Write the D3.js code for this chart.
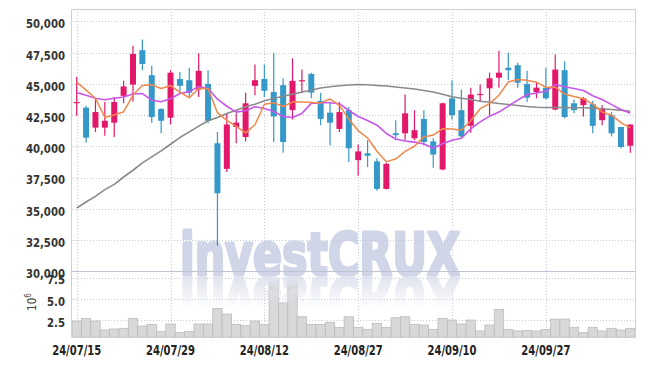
<!DOCTYPE html>
<html>
<head>
<meta charset="utf-8">
<script src="https://cdn.jsdelivr.net/npm/d3@7/dist/d3.min.js"></script>
<style>
  body { margin: 0; background: #fff; }
  svg { display: block; }
</style>
</head>
<body>
<div id="chart"></div>
<script>
// trading days shown on the chart
const dates = [
  "2024-07-15","2024-07-16","2024-07-17","2024-07-18","2024-07-19","2024-07-22","2024-07-23","2024-07-24","2024-07-25","2024-07-26",
  "2024-07-29","2024-07-30","2024-07-31","2024-08-01","2024-08-02","2024-08-05","2024-08-06","2024-08-07","2024-08-08","2024-08-09",
  "2024-08-12","2024-08-13","2024-08-14","2024-08-16","2024-08-19","2024-08-20","2024-08-21","2024-08-22","2024-08-23","2024-08-26",
  "2024-08-27","2024-08-28","2024-08-29","2024-08-30","2024-09-02","2024-09-03","2024-09-04","2024-09-05","2024-09-06","2024-09-09",
  "2024-09-10","2024-09-11","2024-09-12","2024-09-13","2024-09-19","2024-09-20","2024-09-23","2024-09-24","2024-09-25","2024-09-26",
  "2024-09-27","2024-09-30","2024-10-02","2024-10-04","2024-10-07","2024-10-08","2024-10-10","2024-10-11","2024-10-14","2024-10-15"
]
const opens = [
  43500,43100,41500,41500,41900,44050,44950,47700,45700,43000,
  42300,45400,45300,44550,45000,40250,38200,41550,40750,44850,
  45400,44350,44900,42900,45250,45800,43650,42700,41400,42900,
  38900,39450,38800,36600,41050,41050,40650,42200,40400,38150,
  43850,42900,41650,44150,44650,45500,46300,46500,45000,44350,
  44700,42950,46100,43450,43300,43400,42100,42500,41550,40050
]
const highs = [
  45550,43250,43800,43550,43950,45250,48050,48550,46450,43050,
  46100,45950,46300,47450,46100,41150,42650,42650,44300,46550,
  46550,47500,45450,47050,46150,45900,44300,43550,43550,43150,
  40150,40500,39050,38700,42100,44150,42900,42900,40650,43500,
  45300,44550,44700,44950,45900,47650,47500,46700,46050,45100,
  46300,47350,46800,43750,43950,43650,43300,42750,41550,41750
]
const lows = [
  42450,40300,41150,40850,40750,43450,43600,46100,41900,41050,
  41750,44250,43950,43950,41850,32050,37950,40250,40400,44100,
  43950,40350,39500,42150,44250,43850,41700,40100,41150,38750,
  37650,38350,36450,36550,40500,40500,40500,40100,38300,38100,
  42150,40650,41100,43550,42500,44700,45300,44700,43550,43850,
  43750,42900,42250,42650,42400,41050,41700,40800,39850,39500
]
const closes = [
  43550,40700,42750,42050,43550,44800,47400,46600,42350,42050,
  45900,44850,44300,46050,42050,36250,41750,41900,43450,45300,
  44450,42400,40350,45250,45300,44300,42200,41900,42750,39850,
  39600,39250,36600,38600,40900,42650,41300,40350,39350,43450,
  42500,40800,44150,44200,45450,45900,46100,45100,43900,44700,
  43850,46150,42350,42900,43850,41650,43050,41050,39950,41750
]
const volumes = [
  2370000,2680000,2370000,1310000,1430000,1510000,2680000,1780000,1980000,1120000,
  2020000,1000000,1120000,2020000,2020000,3860000,3190000,1980000,1820000,2370000,
  1980000,7180000,4520000,7380000,2880000,1980000,1980000,2210000,1630000,2880000,
  1630000,1390000,2100000,1630000,2760000,2880000,1980000,1900000,1390000,2680000,
  2490000,2020000,2490000,1200000,1900000,3740000,1390000,1200000,1270000,1200000,
  1390000,2600000,2600000,1630000,1000000,1630000,1200000,1510000,1310000,1510000
]
// moving averages as drawn (5, 10, 60 day)
const ma5 = [
  45150,44500,43850,42330,42520,42770,44110,44880,44940,44640,
  44860,44350,43890,44630,44630,42700,42080,41600,41080,41730,
  43370,43500,43190,43550,43550,43520,43480,43790,43290,42200,
  41260,40670,39610,38780,38990,39600,40010,40760,40910,41420,
  41390,41290,42050,43020,43420,44100,45160,45350,45290,45140,
  44730,44740,44190,43990,43820,43380,42760,42500,41910,41490
]
const ma10 = [
  44310,44100,43850,43730,43850,43950,44200,44230,43700,43580,
  43815,44230,44385,44785,44635,43780,43215,42745,42855,43180,
  43035,42790,42395,42315,42640,43445,43490,43490,43420,42875,
  42390,42075,41700,41035,40595,40430,40340,40185,39845,40205,
  40495,40650,41405,41965,42420,42745,43225,43700,44155,44280,
  44415,44950,44770,44640,44480,44055,43750,43345,42950,42655
]
const ma60 = [
  35070,35550,36000,36540,36960,37550,38090,38680,39160,39640,
  40170,40710,41160,41620,42050,42310,42630,42900,43170,43380,
  43650,43840,44020,44180,44350,44500,44670,44770,44850,44910,
  44960,44930,44880,44830,44750,44670,44590,44480,44350,44180,
  43970,43860,43760,43620,43540,43440,43360,43280,43200,43140,
  43120,43120,43120,43090,43090,43060,43010,42950,42900,42820
]
const priceTicks = [30000, 32500, 35000, 37500, 40000, 42500, 45000, 47500, 50000]
const volumeTicks = [2500000, 5000000, 7500000]
const tickDates = ["2024-07-15", "2024-07-29", "2024-08-12", "2024-08-27", "2024-09-10", "2024-09-27"]

const W = 645, H = 366
const plotLeft = 72, plotRight = 635
const plotTop = 9, plotMid = 271.3, plotBottom = 337.3

const upColor = "#e2196a", downColor = "#3498c9"
const gridColor = "#c4c8dc"

const rows = dates.map((d, i) => ({
  date: d, open: opens[i], high: highs[i], low: lows[i], close: closes[i],
  volume: volumes[i], ma5: ma5[i], ma10: ma10[i], ma60: ma60[i]
}))

const x = d3.scaleBand().domain(dates).range([plotLeft, plotRight])
const cx = d => x(d) + x.bandwidth() / 2
const y = d3.scaleLinear().domain([30000, 51000]).range([plotMid, plotTop])
const vy = d3.scaleLinear().domain([450000, 8250000]).range([plotBottom, plotMid])

const svg = d3.select("#chart").append("svg")
    .attr("width", W)
    .attr("height", H)
    .attr("font-family", "'DejaVu Sans Condensed', 'DejaVu Sans', sans-serif")

const defs = svg.append("defs")
const grad = defs.append("linearGradient")
    .attr("id", "fade").attr("x1", 0).attr("y1", 0).attr("x2", 0).attr("y2", 1)
grad.append("stop").attr("offset", "0%").attr("stop-color", "#fff").attr("stop-opacity", 1)
grad.append("stop").attr("offset", "75%").attr("stop-color", "#fff").attr("stop-opacity", 0)
defs.append("mask").attr("id", "reflMask").attr("maskUnits", "userSpaceOnUse")
    .attr("x", 0).attr("y", 0).attr("width", W).attr("height", H)
  .append("rect").attr("x", 0).attr("y", 276).attr("width", W).attr("height", 44).attr("fill", "url(#fade)")

const wmFont = "'DejaVu Sans', sans-serif"
const watermark = (sel, fill) => sel
    .attr("x", 320).attr("y", 274.5)
    .attr("text-anchor", "middle")
    .attr("font-weight", "bold").attr("font-size", 58)
    .attr("font-family", wmFont)
    .attr("textLength", 280).attr("lengthAdjust", "spacingAndGlyphs")
    .attr("fill", fill)
    .attr("stroke", fill).attr("stroke-width", 3.2).attr("stroke-linejoin", "round")
    .text("investCRUX")

// watermark
svg.append("text").call(watermark, "#d0d6e8")

// grid
const grid = svg.append("g")
    .attr("stroke", gridColor)
    .attr("stroke-dasharray", "1,2")
    .attr("stroke-width", 1)
grid.selectAll("line.h")
  .data(priceTicks.filter(t => t > 30000))
  .join("line").attr("class", "h")
    .attr("x1", plotLeft).attr("x2", plotRight)
    .attr("y1", d => Math.round(y(d)) + 0.5).attr("y2", d => Math.round(y(d)) + 0.5)
grid.selectAll("line.vh")
  .data(volumeTicks)
  .join("line").attr("class", "vh")
    .attr("x1", plotLeft).attr("x2", plotRight)
    .attr("y1", d => Math.round(vy(d)) + 0.5).attr("y2", d => Math.round(vy(d)) + 0.5)
grid.selectAll("line.v")
  .data(tickDates)
  .join("line").attr("class", "v")
    .attr("x1", d => Math.round(cx(d)) + 0.5).attr("x2", d => Math.round(cx(d)) + 0.5)
    .attr("y1", plotTop).attr("y2", plotBottom)

// volume bars
svg.append("g")
    .attr("fill", "#d8d8d8")
    .attr("stroke", "#bcbcbc")
    .attr("stroke-width", 0.8)
  .selectAll("rect")
  .data(rows)
  .join("rect")
    .attr("x", d => x(d.date))
    .attr("width", x.bandwidth())
    .attr("y", d => vy(d.volume))
    .attr("height", d => plotBottom - vy(d.volume))

// watermark reflection
svg.append("g").attr("mask", "url(#reflMask)")
  .append("text")
    .attr("transform", "translate(0,552) scale(1,-1)")
    .call(watermark, "#e0e3ee")

// frame
const frame = svg.append("g").attr("stroke", "#cfd1d8").attr("fill", "none")
frame.append("line").attr("x1", plotLeft - 0.5).attr("x2", plotLeft - 0.5).attr("y1", plotTop).attr("y2", plotBottom)
frame.append("line").attr("x1", plotLeft - 0.5).attr("x2", plotRight + 0.5).attr("y1", plotTop + 0.5).attr("y2", plotTop + 0.5)
frame.append("line").attr("x1", plotRight + 0.5).attr("x2", plotRight + 0.5).attr("y1", plotTop).attr("y2", plotBottom)
frame.append("line").attr("x1", plotLeft - 0.5).attr("x2", plotRight + 0.5)
    .attr("y1", Math.round(plotMid) + 0.5).attr("y2", Math.round(plotMid) + 0.5)
    .attr("stroke", "#bfc4d4")

// candles
const candle = svg.append("g")
  .selectAll("g")
  .data(rows)
  .join("g")
    .attr("fill", d => d.close >= d.open ? upColor : downColor)
    .attr("stroke", d => d.close >= d.open ? upColor : downColor)
candle.append("line")
    .attr("x1", d => cx(d.date)).attr("x2", d => cx(d.date))
    .attr("y1", d => y(d.high)).attr("y2", d => y(d.low))
    .attr("stroke-width", 1.2)
candle.append("rect")
    .attr("x", d => cx(d.date) - 3)
    .attr("width", 6)
    .attr("y", d => y(Math.max(d.open, d.close)))
    .attr("height", d => Math.max(1.2, Math.abs(y(d.open) - y(d.close))))
    .attr("stroke", "none")

// moving averages
const lines = [
  { key: "ma60", color: "#8a8a8a", width: 1.6 },
  { key: "ma10", color: "#c956e9", width: 1.6 },
  { key: "ma5", color: "#f0874b", width: 1.5 }
]
lines.forEach(l => {
  svg.append("path")
      .datum(rows)
      .attr("fill", "none")
      .attr("stroke", l.color)
      .attr("stroke-width", l.width)
      .attr("stroke-linejoin", "round")
      .attr("d", d3.line().x(d => cx(d.date)).y(d => y(d[l.key])))
})

// axis labels, squeezed a little to look condensed
const squeeze = (sel, k) => sel.each(function () {
  this.setAttribute("textLength", this.getComputedTextLength() * k)
  this.setAttribute("lengthAdjust", "spacingAndGlyphs")
})
const labels = svg.append("g").attr("fill", "#333").attr("font-size", 12.5)
    .attr("font-weight", "bold").attr("text-anchor", "end")
labels.selectAll("text.p")
  .data(priceTicks)
  .join("text").attr("class", "p")
    .attr("x", 65).attr("y", d => y(d) + 6.8)
    .text(d3.format(","))
    .call(squeeze, 0.9)
labels.selectAll("text.vol")
  .data(volumeTicks)
  .join("text").attr("class", "vol")
    .attr("x", 65).attr("y", d => vy(d) + 6.8)
    .text(d => (d / 1e6).toFixed(1))
    .call(squeeze, 0.9)

const unit = svg.append("text")
    .attr("transform", "translate(36,302) rotate(-90)")
    .attr("text-anchor", "middle")
    .attr("fill", "#444")
    .attr("font-size", 11.5)
unit.append("tspan").text("10")
unit.append("tspan").attr("dy", -5).attr("font-size", 8).text("6")

const fmt = d => d.slice(2).replace(/-/g, "/")
svg.append("g")
    .attr("fill", "#222")
    .attr("font-size", 14.5)
    .attr("font-weight", "bold")
    .attr("text-anchor", "middle")
  .selectAll("text")
  .data(tickDates)
  .join("text")
    .attr("x", d => cx(d))
    .attr("y", 354.5)
    .attr("textLength", 49).attr("lengthAdjust", "spacingAndGlyphs")
    .text(fmt)
</script>
</body>
</html>
